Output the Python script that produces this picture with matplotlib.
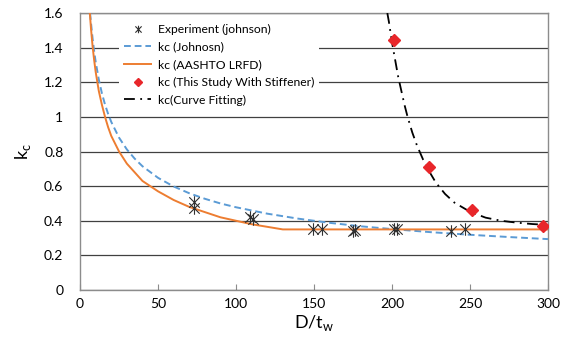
import matplotlib
matplotlib.use("Agg")
from matplotlib import pyplot as plt
from matplotlib.path import Path

# experiment (johnson)
exp_x = [73, 73, 109, 111, 149.5, 155, 175, 176, 201, 203, 238, 247]
exp_y = [0.51, 0.475, 0.42, 0.41, 0.35, 0.35, 0.34, 0.345, 0.355, 0.355, 0.34, 0.35]

# kc (Johnosn) curve
john_x = [6.4, 7, 8, 9, 10, 12, 14, 16, 18, 20, 25, 30, 35, 40, 50, 60, 70, 80, 90,
          100, 120, 140, 160, 180, 200, 225, 250, 275, 300]
john_y = [1.60, 1.543, 1.455, 1.381, 1.318, 1.216, 1.136, 1.071, 1.017, 0.971, 0.880,
          0.812, 0.759, 0.715, 0.648, 0.598, 0.559, 0.527, 0.500, 0.478, 0.441, 0.412,
          0.388, 0.368, 0.352, 0.334, 0.319, 0.306, 0.294]

# kc (AASHTO LRFD)
aashto_x = [6.25, 7, 8, 9, 10, 12, 14, 16, 18, 20, 25, 30, 35, 40, 50, 60, 70, 80, 90,
            100, 110, 120, 130, 300]
aashto_y = [1.60, 1.51, 1.41, 1.33, 1.26, 1.15, 1.07, 1.00, 0.94, 0.89, 0.80, 0.73, 0.68,
            0.63, 0.57, 0.52, 0.48, 0.45, 0.42, 0.40, 0.38, 0.365, 0.35, 0.35]

# kc (this study with stiffener)
study_x = [201.5, 223.7, 251.5, 296.6]
study_y = [1.444, 0.712, 0.462, 0.371]

# kc (curve fitting)
fit_x = [197.0, 198, 200, 202, 204, 206, 208, 210, 213, 216, 220, 224, 228, 234, 240,
         250, 260, 270, 280, 290, 300]
fit_y = [1.60, 1.55, 1.43, 1.33, 1.23, 1.15, 1.07, 1.00, 0.91, 0.835, 0.752, 0.683,
         0.622, 0.555, 0.505, 0.452, 0.418, 0.400, 0.389, 0.381, 0.376]

plt.rcParams['font.family'] = ['Lato', 'DejaVu Sans']

# excel style star marker: x with vertical bar
star = Path([(-1, -1), (1, 1), (-1, 1), (1, -1), (0, -1.2), (0, 1.2)],
            [Path.MOVETO, Path.LINETO, Path.MOVETO, Path.LINETO, Path.MOVETO, Path.LINETO])

fig = plt.figure(figsize=(5.72, 3.44), dpi=100)
ax = fig.add_axes([0.140, 0.157, 0.818, 0.805])

ax.plot(exp_x, exp_y, linestyle='none', marker=star, markersize=9, color='#303030',
        markeredgewidth=0.8, label='Experiment (johnson)', zorder=5)
ax.plot(john_x, john_y, color='#5b9bd5', linewidth=1.4, linestyle=(0, (3.5, 2)),
        label='kc (Johnosn)', zorder=3)
ax.plot(aashto_x, aashto_y, color='#ed7d31', linewidth=1.4, label='kc (AASHTO LRFD)', zorder=3)
ax.plot(study_x, study_y, linestyle='none', marker='D', markersize=6.5, color='#e8262a',
        label='kc (This Study With Stiffener)', zorder=6)
ax.plot(fit_x, fit_y, color='black', linewidth=1.3, linestyle=(0, (6, 3, 1, 3)),
        label='kc(Curve Fitting)', zorder=4)

ax.set_xlim(0, 300)
ax.set_ylim(0, 1.6)
ax.set_xticks(range(0, 301, 50))
ax.set_yticks([0, 0.2, 0.4, 0.6, 0.8, 1, 1.2, 1.4, 1.6])
ax.set_yticklabels(['0', '0.2', '0.4', '0.6', '0.8', '1', '1.2', '1.4', '1.6'])
ax.yaxis.grid(True, color='#404040', linewidth=0.9)
ax.set_axisbelow(True)
for s in ax.spines.values():
    s.set_color('#8c8c8c')
    s.set_linewidth(1.0)
ax.tick_params(axis='x', direction='in', length=4, color='#8c8c8c', labelsize=10, pad=6)
ax.tick_params(axis='y', length=0, labelsize=10, pad=12)

ax.set_xlabel('D/t$_\\mathregular{w}$', fontsize=13, labelpad=2)
ax.set_ylabel('k$_\\mathregular{c}$', fontsize=13, labelpad=8)

leg = ax.legend(loc='upper left', bbox_to_anchor=(0.07, 1.0), frameon=True, fancybox=False,
                edgecolor='none', facecolor='white', framealpha=1, fontsize=8.7,
                handlelength=2.3, handletextpad=0.5, labelspacing=0.55, borderpad=0.4,
                markerscale=0.6)

fig.savefig('out.png', dpi=100)
